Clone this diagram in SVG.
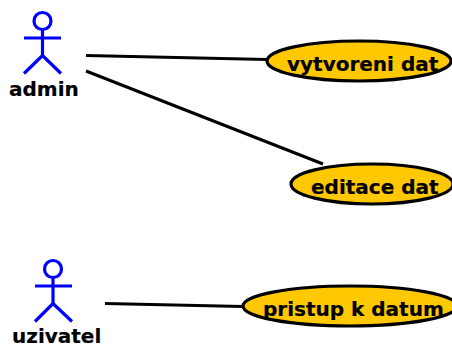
<svg xmlns="http://www.w3.org/2000/svg" width="452" height="344" viewBox="0 0 452 344">
<style>
.actor{fill:none;stroke:#0000ff;stroke-width:3.200}
.uc{fill:#ffc800;stroke:#000;stroke-width:3.200}
.link{fill:none;stroke:#000;stroke-width:3}
text{font-family:"DejaVu Sans",sans-serif;font-weight:bold;font-size:20px;fill:#000;stroke:#000;stroke-width:0.200}
</style>
<rect width="452" height="344" fill="#fff"/>
<g id="connectors">
<line class="link" x1="86" y1="55.500" x2="267" y2="59.500"/>
<line class="link" x1="86" y1="71" x2="323" y2="164"/>
<line class="link" x1="105" y1="303.500" x2="243" y2="306.500"/>
</g>
<g id="admin">
<circle class="actor" cx="42.500" cy="21" r="8.500"/>
<path class="actor" d="M42.500 29.500V55.500M24 38H61M24 73.500L42.500 55.500L61 73.500"/>
<text x="9" y="95.500">admin</text>
</g>
<g id="uzivatel">
<circle class="actor" cx="53" cy="269" r="8.500"/>
<path class="actor" d="M53 277.500V303.500M35 286H72M35 321.500L53 303.500L72 321.500"/>
<text x="12" y="343">uzivatel</text>
</g>
<g id="vytvoreni">
<ellipse class="uc" cx="359" cy="61" rx="92" ry="20"/>
<text x="287" y="71">vytvoreni dat</text>
</g>
<g id="editace">
<ellipse class="uc" cx="372" cy="184" rx="81" ry="20"/>
<text x="311" y="194">editace dat</text>
</g>
<g id="pristup">
<ellipse class="uc" cx="350" cy="306" rx="107" ry="20"/>
<text x="263" y="316">pristup k datum</text>
</g>
</svg>
